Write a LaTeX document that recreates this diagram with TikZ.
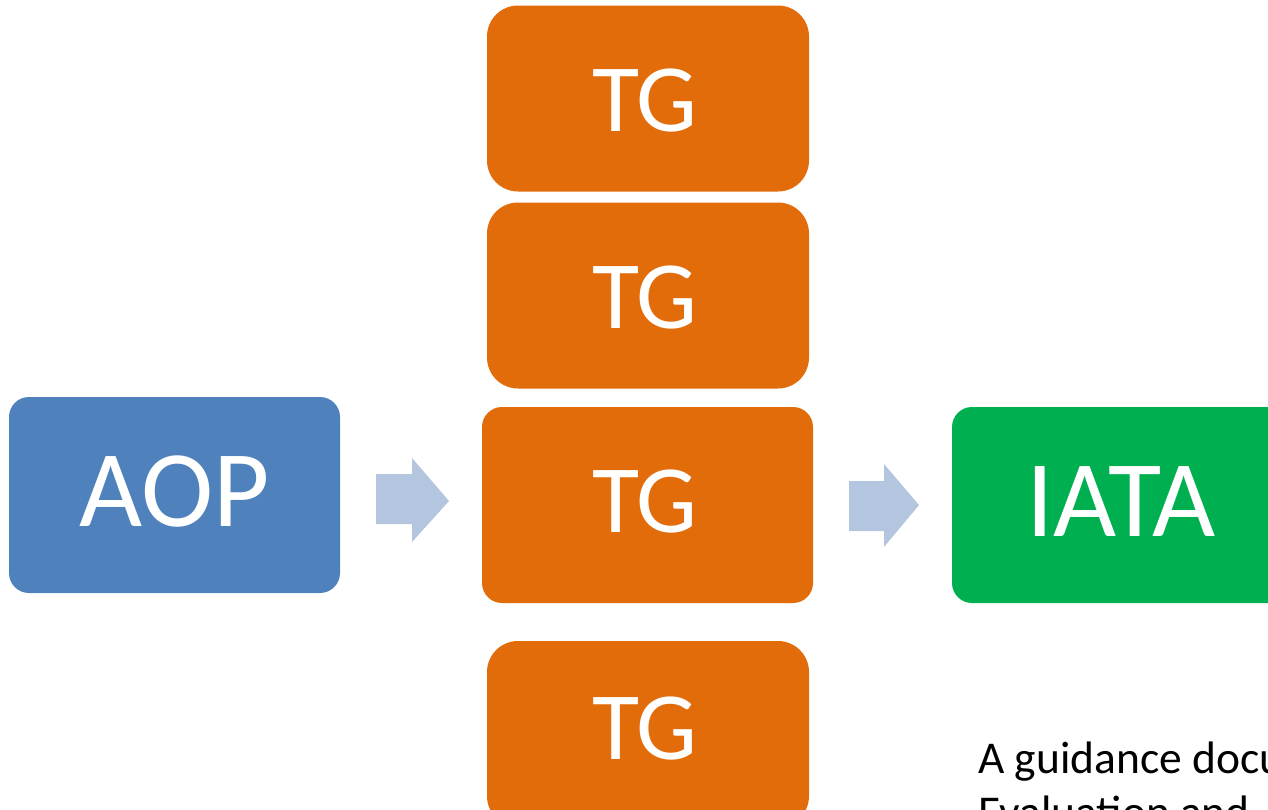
\documentclass[tikz,border=0pt]{standalone}
\usepackage{fontspec}
\setmainfont{Carlito}
\definecolor{aopblue}{RGB}{79,129,189}
\definecolor{tgorange}{RGB}{227,108,10}
\definecolor{iatagreen}{RGB}{0,176,80}
\definecolor{flowarrow}{RGB}{180,197,224}
\begin{document}
\begin{tikzpicture}[x=1pt,y=-1pt,
  box/.style={draw=none,inner sep=0pt,outer sep=0pt},
  bigbox/.style={box,minimum width=331pt,minimum height=196pt,rounded corners=20pt},
  stackbox/.style={box,fill=tgorange,minimum width=322pt,minimum height=186pt,rounded corners=31pt},
  boxlabel/.style={anchor=base,text=white,inner sep=0pt},
  captionline/.style={anchor=base west,inner sep=0pt,font=\fontsize{45.5}{55}\selectfont},
  flow/.style={fill=flowarrow,draw=none}]
\useasboundingbox (0,0) rectangle (1268,809);
\clip (0,0) rectangle (1268,809);

% left: source box
\node[bigbox,fill=aopblue] (aop) at (174.5,495) {};
\node[boxlabel] (aoplbl) at (174.5,526) {\fontsize{109}{130}\selectfont AOP};

% middle: stack of TG boxes
\node[stackbox] (tg1) at (648,98.5) {};
\node[boxlabel] (tg1lbl) at (645,131) {\fontsize{96.5}{116}\selectfont TG};
\node[stackbox] (tg2) at (648,295.5) {};
\node[boxlabel] (tg2lbl) at (645,328) {\fontsize{96.5}{116}\selectfont TG};
\node[bigbox,fill=tgorange] (tg3) at (647.5,505) {};
\node[boxlabel] (tg3lbl) at (645,532) {\fontsize{96.5}{116}\selectfont TG};
\node[stackbox] (tg4) at (648,734) {};
\node[boxlabel] (tg4lbl) at (645,759) {\fontsize{96.5}{116}\selectfont TG};

% right: target box
\node[bigbox,fill=iatagreen,minimum width=338pt] (iata) at (1121,505) {};
\node[boxlabel] (iatalbl) at (1121,536) {\fontsize{109}{130}\selectfont IATA};

% block arrows between the columns
\fill[flow] (376,474) -- (412,474) -- (412,458) -- (449,501) -- (412,542) -- (412,524) -- (376,524) -- cycle;
\fill[flow] (849,481) -- (884,481) -- (884,464) -- (919,505) -- (884,547) -- (884,531) -- (849,531) -- cycle;

% caption under the target box, running past the right edge
\node[captionline] (caption) at (978,773) {A guidance document};
\node[captionline] (captionb) at (978,827) {Evaluation and};
\end{tikzpicture}
\end{document}
